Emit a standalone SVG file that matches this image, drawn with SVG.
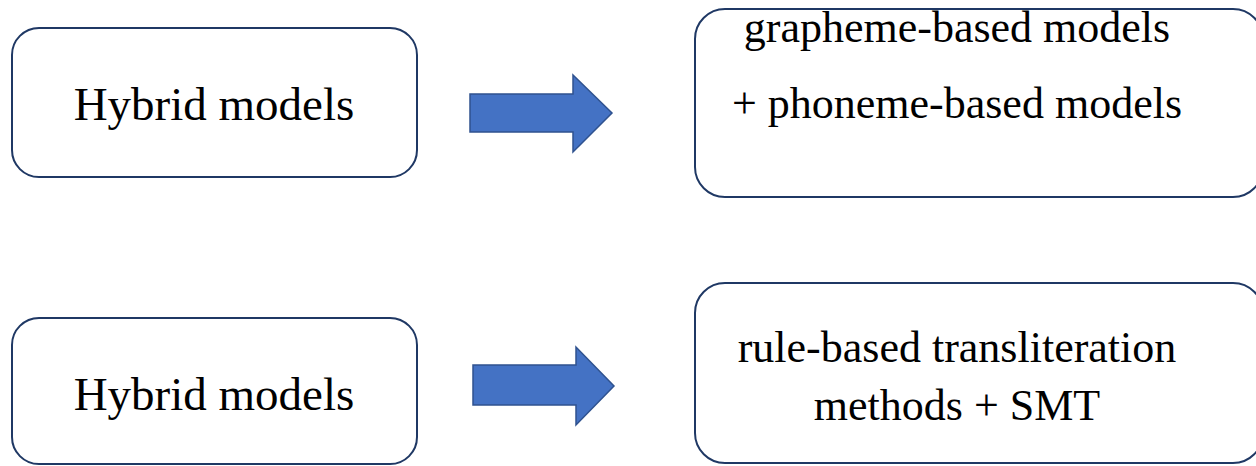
<svg xmlns="http://www.w3.org/2000/svg" width="1256" height="466" viewBox="0 0 1256 466">
  <style>
    .box { fill: #ffffff; stroke: #1f3864; stroke-width: 2; }
    .arrow { fill: #4472c4; stroke: #2f528f; stroke-width: 1.5; stroke-linejoin: miter; }
    text { font-family: 'Liberation Serif', serif; fill: #000000; text-anchor: middle; }
    .lg { font-size: 47px; }
    .md { font-size: 44px; }
  </style>
  <rect width="1256" height="466" fill="#ffffff"/>

  <g id="hybrid-top">
    <rect class="box" x="12" y="28" width="405" height="149" rx="27" ry="27"/>
    <text class="lg" x="214" y="120" font-family="Liberation Serif">Hybrid models</text>
  </g>

  <g id="grapheme-phoneme">
    <rect class="box" x="695" y="9" width="568" height="188" rx="30" ry="30"/>
    <text class="md" x="957" y="42" font-family="Liberation Serif">grapheme-based models</text>
    <text class="md" x="957" y="118" font-family="Liberation Serif">+ phoneme-based models</text>
  </g>

  <g id="hybrid-bottom">
    <rect class="box" x="12" y="318" width="405" height="146" rx="27" ry="27"/>
    <text class="lg" x="214" y="410" font-family="Liberation Serif">Hybrid models</text>
  </g>

  <g id="rule-smt">
    <rect class="box" x="695" y="283" width="568" height="180" rx="30" ry="30"/>
    <text class="md" x="957" y="362" font-family="Liberation Serif">rule-based transliteration</text>
    <text class="md" x="957" y="420" font-family="Liberation Serif">methods + SMT</text>
  </g>

  <g id="connectors">
    <polygon class="arrow" points="470,94 573,94 573,75 612,113 573,152 573,132 470,132"/>
    <polygon class="arrow" points="473,365 576,365 576,347 614,386 576,425 576,405 473,405"/>
  </g>
</svg>
